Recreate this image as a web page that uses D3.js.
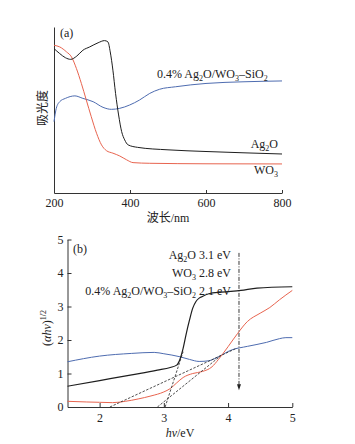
<!DOCTYPE html>
<html><head><meta charset="utf-8">
<script src="https://cdn.jsdelivr.net/npm/d3@7/dist/d3.min.js"></script>
<style>
html,body{margin:0;padding:0;background:#fff;}
svg text{font-family:"Liberation Serif","Noto Sans CJK SC",serif;fill:#222;}
</style></head>
<body>
<svg id="c" width="355" height="444"></svg>
<script>
// ---------- Panel (a): absorbance spectra ----------
const aTicks = [200, 400, 600, 800];
const ag2oWave = [200,215,230,244,260,276,294,316,333,342,348,355,362,370,378,386,395,420,500,600,700,800];
const ag2oAbs  = [87,84,81.5,80.5,82.5,86,88,90.5,91.8,91,85,74,60,47,37,32,29,27.5,26,25,24.2,23.5];
const compWave = [200,206,215,230,255,276,303,329,351,373,399,425,452,478,520,600,700,800];
const compAbs  = [43,51,55,57,58.5,57,55,51.6,50.4,51,53,56,60,62.5,64,66,67,67.5];
const wo3Wave  = [200,215,233,246,259,272,285,298,312,325,338,355,373,391,408,452,600,800];
const wo3Abs   = [89,88,85,82,75,66,56,46,36,29,25.5,24,22.3,20,18.3,17.9,17.6,17.5];

// ---------- Panel (b): Tauc plot ----------
const bXTicks = [2, 3, 4, 5];
const bYTicks = [0, 1, 2, 3, 4, 5];
const ag2oE = [1.5,2.0,2.5,2.9,3.1,3.2,3.25,3.3,3.35,3.4,3.45,3.5,3.55,3.6,3.7,3.9,4.2,4.45,5.0];
const ag2oT = [0.62,0.79,0.96,1.1,1.18,1.25,1.42,1.75,2.2,2.6,2.95,3.15,3.25,3.3,3.38,3.43,3.48,3.55,3.59];
const compE = [1.5,2.0,2.5,2.85,3.0,3.25,3.4,3.55,3.7,3.85,4.05,4.3,4.6,4.8,4.9,5.0];
const compT = [1.35,1.52,1.6,1.63,1.59,1.5,1.42,1.36,1.38,1.5,1.7,1.81,1.93,2.04,2.07,2.07];
const wo3E  = [1.5,1.8,2.0,2.2,2.4,2.6,2.8,3.0,3.1,3.2,3.3,3.45,3.6,3.75,3.85,4.0,4.15,4.3,4.5,4.65,4.8,5.0];
const wo3T  = [0.17,0.15,0.14,0.13,0.17,0.24,0.33,0.45,0.55,0.72,0.88,1.0,1.06,1.2,1.42,1.8,2.2,2.55,2.8,2.97,3.2,3.48];
const tanAg2O = [[3.02,0],[3.3,1.65]];
const tanWO3  = [[2.9,0],[3.88,1.52]];
const tanComp = [[2.16,0],[4.14,1.76]];
const arrowX = 4.17, arrowY = [4.6, 0.5];
const legendNames = ["Ag2O","WO3","comp"];
const legendGaps  = ["3.1 eV","2.8 eV","2.1 eV"];

const BLACK="#1e1e1e", RED="#e8644f", BLUE="#4e6cb0";
const svg = d3.select("#c");
const FS = 12;

// rich text helper: parts [text, mode] mode: n normal, s sub, i italic, p sup
function rich(sel, parts){
  let pend = 0;
  parts.forEach(([t,m])=>{
    const ts = sel.append("tspan").text(t);
    let dy = pend; pend = 0;
    if(m==="s"){ ts.attr("font-size",8); dy += 3; pend = -3; }
    if(m==="p"){ ts.attr("font-size",8); dy += -5; pend = 5; }
    if(m==="i"){ ts.attr("font-style","italic"); }
    if(dy!==0) ts.attr("dy",dy);
  });
  return sel;
}
const compParts = [["0.4% Ag"],["2","s"],["O/WO"],["3","s"],["\u2013SiO"],["2","s"]];
const nameParts = {Ag2O:[["Ag"],["2","s"],["O"]], WO3:[["WO"],["3","s"]], comp:compParts};

// ===== Panel (a) =====
const xA = d3.scaleLinear().domain([200,800]).range([54,282]);
const yA = d3.scaleLinear().domain([0,100]).range([193,27]);
const gA = svg.append("g");
const axA = gA.append("g").attr("transform","translate(0,193)")
  .call(d3.axisBottom(xA).tickValues(aTicks).tickFormat(d3.format("d")).tickSizeInner(-3).tickSizeOuter(0).tickPadding(5));
const axAL = gA.append("g").attr("transform","translate(54,0)")
  .call(d3.axisLeft(yA).tickValues([]).tickSizeOuter(0));
[axA,axAL].forEach(a=>{a.selectAll("path,line").attr("stroke","#333");
  a.selectAll("text").attr("font-size",FS).attr("font-family","Liberation Serif").attr("fill","#222");});

const lineA = d3.line().x(d=>xA(d[0])).y(d=>yA(d[1])).curve(d3.curveMonotoneX);
[[compWave,compAbs,BLUE],[wo3Wave,wo3Abs,RED],[ag2oWave,ag2oAbs,BLACK]].forEach(([xs,ys,c])=>{
  gA.append("path").datum(xs.map((x,i)=>[x,ys[i]])).attr("d",lineA)
    .attr("fill","none").attr("stroke",c).attr("stroke-width",1);
});
gA.append("text").attr("x",60).attr("y",37).attr("font-size",FS).text("(a)");
rich(gA.append("text").attr("x",157).attr("y",78).attr("font-size",FS), compParts);
rich(gA.append("text").attr("x",278).attr("y",148).attr("font-size",FS).attr("text-anchor","end"), nameParts.Ag2O);
rich(gA.append("text").attr("x",278).attr("y",174).attr("font-size",FS).attr("text-anchor","end"), nameParts.WO3);
gA.append("text").attr("transform","translate(47,108) rotate(-90)").attr("text-anchor","middle")
  .attr("font-size",FS).attr("font-family","Noto Sans CJK SC").text("吸光度");
const xlA = gA.append("text").attr("x",168).attr("y",222).attr("text-anchor","middle").attr("font-size",FS);
xlA.append("tspan").attr("font-family","Noto Sans CJK SC").text("波长");
xlA.append("tspan").text("/nm");

// ===== Panel (b) =====
const xB = d3.scaleLinear().domain([1.5,5]).range([67.5,292.3]);
const yB = d3.scaleLinear().domain([0,5]).range([407,239.5]);
const gB = svg.append("g");
const axB = gB.append("g").attr("transform","translate(0,407)")
  .call(d3.axisBottom(xB).tickValues(bXTicks).tickFormat(d3.format("d")).tickSizeInner(-4).tickSizeOuter(0).tickPadding(6));
const axBL = gB.append("g").attr("transform","translate(67.5,0)")
  .call(d3.axisLeft(yB).tickValues(bYTicks).tickFormat(d3.format("d")).tickSizeInner(-4).tickSizeOuter(0).tickPadding(4));
axBL.selectAll(".tick").filter(d=>d===0).select("line").remove();
[axB,axBL].forEach(a=>{a.selectAll("path,line").attr("stroke","#333");
  a.selectAll("text").attr("font-size",FS).attr("font-family","Liberation Serif").attr("fill","#222");});

const lineB = d3.line().x(d=>xB(d[0])).y(d=>yB(d[1])).curve(d3.curveMonotoneX);
[[compE,compT,BLUE],[wo3E,wo3T,RED],[ag2oE,ag2oT,BLACK]].forEach(([xs,ys,c])=>{
  gB.append("path").datum(xs.map((x,i)=>[x,ys[i]])).attr("d",lineB)
    .attr("fill","none").attr("stroke",c).attr("stroke-width",c===BLACK?1.2:1);
});
const lineS = d3.line().x(d=>xB(d[0])).y(d=>yB(d[1]));
[tanAg2O,tanWO3,tanComp].forEach(t=>{
  gB.append("path").datum(t).attr("d",lineS).attr("fill","none")
    .attr("stroke","#222").attr("stroke-width",0.8).attr("stroke-dasharray","2.5,1.5");
});
// arrow
gB.append("line").attr("x1",xB(arrowX)).attr("x2",xB(arrowX))
  .attr("y1",yB(arrowY[0])).attr("y2",yB(arrowY[1])-3)
  .attr("stroke","#222").attr("stroke-width",0.9).attr("stroke-dasharray","4,1.5,1,1.5");
const ax0 = xB(arrowX), ay0 = yB(arrowY[1]);
gB.append("path").attr("d",`M${ax0-2},${ay0-6}L${ax0+2},${ay0-6}L${ax0},${ay0}Z`).attr("fill","#222");

gB.append("text").attr("x",73).attr("y",253).attr("font-size",FS).text("(b)");
const legY = [259,277,295];
legendNames.forEach((n,i)=>{
  rich(gB.append("text").attr("x",196).attr("y",legY[i]).attr("font-size",FS).attr("text-anchor","end"), nameParts[n]);
  gB.append("text").attr("x",231).attr("y",legY[i]).attr("font-size",FS).attr("text-anchor","end").text(legendGaps[i]);
});
rich(gB.append("text").attr("transform","translate(51,328) rotate(-90)").attr("text-anchor","middle").attr("font-size",FS),
  [["("],["\u03B1h\u03BD","i"],[")"],["1/2","p"]]);
rich(gB.append("text").attr("x",180).attr("y",437).attr("text-anchor","middle").attr("font-size",FS),
  [["h\u03BD","i"],["/eV"]]);
</script>
</body></html>
